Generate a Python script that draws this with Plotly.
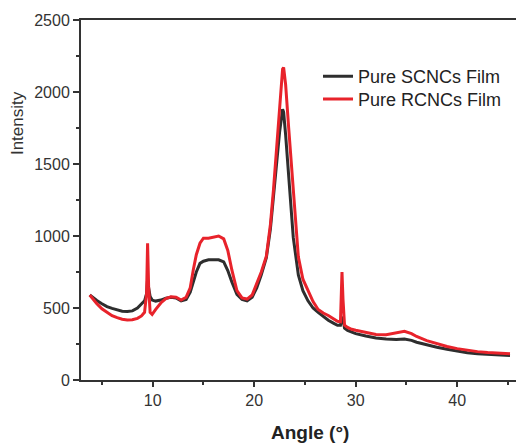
import plotly.graph_objects as go

# XRD patterns
angle = [3.8, 4.0, 4.5, 5.0, 5.5, 6.0, 6.5, 7.0, 7.5, 8.0, 8.5, 8.9, 9.2, 9.4, 9.5, 9.6, 9.75, 9.95,
         10.3, 10.8, 11.3, 11.8, 12.3, 12.8, 13.3, 13.7, 14.0, 14.3, 14.66, 15.0, 15.5, 16.0, 16.5,
         17.0, 17.4, 17.8, 18.3, 18.8, 19.3, 19.8, 20.25, 20.7, 21.2, 21.6, 21.9, 22.2, 22.5, 22.8,
         22.9, 23.1, 23.4, 23.85, 24.35, 24.8, 25.3, 25.8, 26.3, 26.8, 27.3, 27.8, 28.2, 28.5, 28.65,
         28.75, 28.9, 29.2, 29.6, 30.0, 31.0, 32.0, 33.0, 34.0, 34.8, 35.5, 36.0, 37.0, 38.0, 39.0,
         40.0, 41.0, 42.0, 43.0, 44.0, 45.2]

scncs = [590, 578, 552, 530, 510, 497, 487, 478, 475, 480, 500, 530, 550, 600, 700, 640, 580, 555,
         548, 555, 568, 575, 570, 550, 560, 610, 680, 750, 810, 825, 835, 835, 835,
         820, 760, 680, 595, 560, 550, 575, 640, 730, 850, 1050, 1290, 1500, 1720, 1880,
         1860, 1700, 1400, 990, 730, 620, 550, 500, 470, 440, 415, 395, 380, 380, 440,
         420, 360, 345, 332, 322, 305, 292, 285, 282, 285, 275, 262, 243, 228, 213,
         200, 190, 182, 177, 173, 170]

rcncs = [590, 572, 530, 495, 468, 447, 433, 422, 417, 418, 428, 445, 470, 600, 950, 650, 470, 455,
         490, 535, 565, 578, 575, 555, 575, 640, 764, 870, 950, 985, 985, 990, 1000,
         980, 900, 764, 620, 570, 562, 590, 670, 750, 860, 1080, 1320, 1620, 1920, 2160,
         2170, 2050, 1750, 1320, 856, 700, 625, 545, 490, 465, 448, 425, 408, 405, 750,
         560, 380, 365, 352, 345, 330, 316, 315, 328, 338, 322, 302, 273, 251, 233,
         218, 206, 197, 191, 186, 183]

FONT = "Liberation Sans, Arial, sans-serif"

fig = go.Figure()
fig.add_trace(go.Scatter(x=angle, y=scncs, mode="lines", name="Pure SCNCs Film",
                         line=dict(color="#2e2e2e", width=3), legend="legend"))
fig.add_trace(go.Scatter(x=angle, y=rcncs, mode="lines", name="Pure RCNCs Film",
                         line=dict(color="#e8232b", width=3), legend="legend2"))

leg_style = dict(xanchor="left", yanchor="top", bgcolor="rgba(0,0,0,0)",
                 font=dict(size=18, color="#222222"))

# page has an 8px body margin, so the figure is sized to fit inside the window
fig.update_layout(
    width=516, height=436,
    margin=dict(l=73, r=0, t=12, b=64),
    paper_bgcolor="white", plot_bgcolor="white",
    font=dict(family=FONT, color="#333333", size=15),
    showlegend=True,
    legend=dict(x=0.535, y=0.894, **leg_style),
    legend2=dict(x=0.535, y=0.831, **leg_style),
    annotations=[
        dict(text="Intensity", x=-0.142, y=0.714, xref="paper", yref="paper",
             xanchor="center", yanchor="middle",
             textangle=-90, showarrow=False, font=dict(size=17, color="#333333")),
        dict(text="<b>Angle (°)</b>", x=0.517, y=-0.146, xref="paper", yref="paper",
             xanchor="center", yanchor="middle",
             showarrow=False, font=dict(size=19, color="#222222")),
    ],
)

fig.update_xaxes(
    range=[2.94, 46.58], showgrid=False, zeroline=False,
    showline=True, linecolor="#333333", linewidth=2, mirror=True,
    ticks="outside", ticklen=5, tickwidth=2, tickcolor="#333333",
    tickvals=[10, 20, 30, 40], tickfont=dict(size=16),
    minor=dict(tickvals=[5, 15, 25, 35, 45], ticks="outside", ticklen=3,
               tickwidth=2, tickcolor="#333333"),
)
fig.update_yaxes(
    range=[0, 2500], showgrid=False, zeroline=False,
    showline=True, linecolor="#333333", linewidth=2,
    ticks="outside", ticklen=6, tickwidth=2, tickcolor="#333333",
    tickvals=[0, 500, 1000, 1500, 2000, 2500], tickfont=dict(size=16),
    minor=dict(tickvals=[250, 750, 1250, 1750, 2250], ticks="outside", ticklen=3,
               tickwidth=2, tickcolor="#333333"),
)

fig.write_html("out.html")
